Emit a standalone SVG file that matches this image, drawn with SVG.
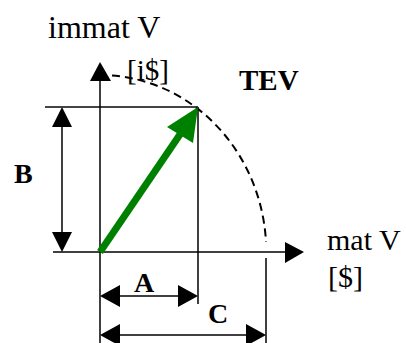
<svg xmlns="http://www.w3.org/2000/svg" width="406" height="343" viewBox="0 0 406 343">
<defs>
<style>
.ln{stroke:#000;stroke-width:1.5;fill:none}
.gr{stroke:#444;stroke-width:2;fill:none}
.hd{fill:#000;stroke:none}
.t{font-family:"Liberation Serif","Times New Roman",serif;fill:#000}
.b{font-family:"Liberation Serif","Times New Roman",serif;font-weight:bold;fill:#000}
</style>
</defs>
<rect width="406" height="343" fill="#fff"/>
<g id="connectors">
<line class="gr" x1="45" y1="107" x2="198" y2="107"/>
<line class="ln" x1="198" y1="107" x2="198" y2="304"/>
<line class="ln" x1="266" y1="258" x2="266" y2="343"/>
<path d="M112,75.5 A166,177 0 0 1 266,242" fill="none" stroke="#000" stroke-width="2" stroke-dasharray="8,5"/>
</g>
<g id="axis-y">
<line class="ln" x1="100" y1="80" x2="100" y2="343"/>
<polygon class="hd" points="100,62 90,81 111,81"/>
</g>
<g id="axis-x">
<line class="ln" x1="53" y1="252" x2="287" y2="252"/>
<polygon class="hd" points="304,252 285,242 285,263"/>
</g>
<g id="dim-B">
<line class="ln" x1="62" y1="125" x2="62" y2="234"/>
<polygon class="hd" points="62,107 52,127 72,127"/>
<polygon class="hd" points="62,252 52,232 72,232"/>
<text class="b" x="14" y="183" font-size="28">B</text>
</g>
<g id="dim-A">
<line class="ln" x1="118" y1="296" x2="180" y2="296"/>
<polygon class="hd" points="100,296 120,285 120,307"/>
<polygon class="hd" points="198,296 178,285 178,307"/>
<text class="b" x="134" y="292" font-size="28">A</text>
</g>
<g id="dim-C">
<line class="ln" x1="118" y1="335" x2="248" y2="335"/>
<polygon class="hd" points="100,335 120,324 120,346"/>
<polygon class="hd" points="266,335 246,324 246,346"/>
<text class="b" x="208" y="323" font-size="28">C</text>
</g>
<g id="vector-TEV">
<line x1="100" y1="252" x2="183" y2="130" stroke="#008000" stroke-width="7"/>
<polygon points="198,107 167,127 193,143" fill="#008000"/>
<text class="b" x="239" y="90" font-size="29">TEV</text>
</g>
<g id="labels">
<text class="t" x="48" y="38" font-size="32">immat V</text>
<text class="t" x="127" y="80" font-size="29">[i$]</text>
<text class="t" x="327" y="250" font-size="30">mat V</text>
<text class="t" x="328" y="287" font-size="30">[$]</text>
</g>
</svg>
